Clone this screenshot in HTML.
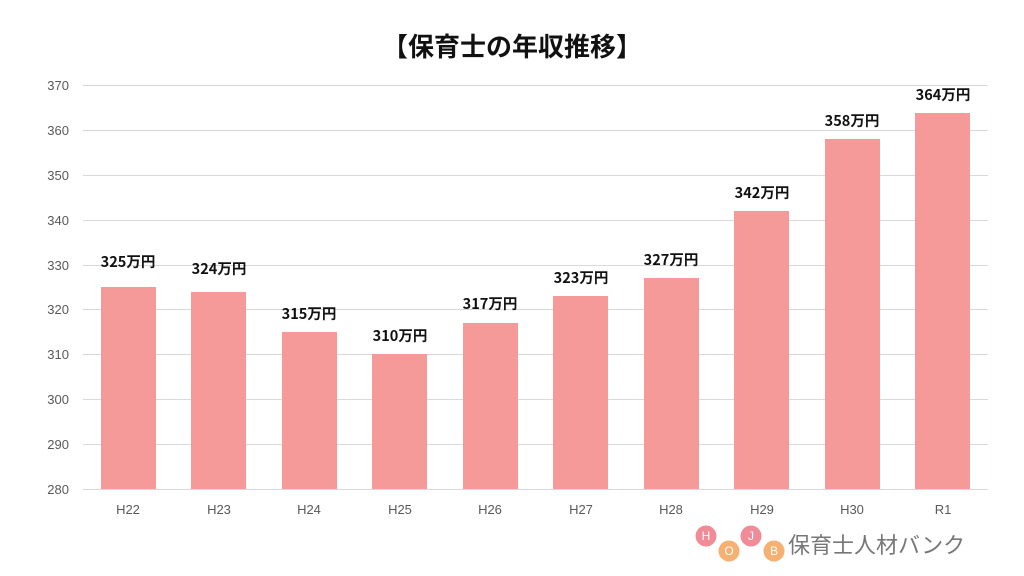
<!DOCTYPE html>
<html><head><meta charset="utf-8"><style>
html,body{margin:0;padding:0;background:#fff;}
svg{display:block;font-family:"Liberation Sans","Noto Sans CJK JP",sans-serif;}
</style></head><body>
<svg width="1024" height="576" viewBox="0 0 1024 576">
<rect width="1024" height="576" fill="#fff"/>
<text x="512" y="56" text-anchor="middle" font-size="26" font-weight="bold" fill="#111" font-family="Noto Sans CJK JP, sans-serif">【保育士の年収推移】</text>
<g stroke="#d9d9d9" stroke-width="1">
<line x1="83" x2="988" y1="85.5" y2="85.5"/>
<line x1="83" x2="988" y1="130.5" y2="130.5"/>
<line x1="83" x2="988" y1="175.5" y2="175.5"/>
<line x1="83" x2="988" y1="220.5" y2="220.5"/>
<line x1="83" x2="988" y1="265.5" y2="265.5"/>
<line x1="83" x2="988" y1="309.5" y2="309.5"/>
<line x1="83" x2="988" y1="354.5" y2="354.5"/>
<line x1="83" x2="988" y1="399.5" y2="399.5"/>
<line x1="83" x2="988" y1="444.5" y2="444.5"/>
<line x1="83" x2="988" y1="489.5" y2="489.5"/>
</g>
<g font-size="13" fill="#595959" text-anchor="end">
<text x="69" y="90">370</text><text x="69" y="135">360</text><text x="69" y="180">350</text>
<text x="69" y="225">340</text><text x="69" y="270">330</text><text x="69" y="314">320</text>
<text x="69" y="359">310</text><text x="69" y="404">300</text><text x="69" y="449">290</text>
<text x="69" y="494">280</text>
</g>
<g fill="#f59a98">
<rect x="101" y="287" width="55" height="202"/>
<rect x="191" y="292" width="55" height="197"/>
<rect x="282" y="332" width="55" height="157"/>
<rect x="372" y="354" width="55" height="135"/>
<rect x="463" y="323" width="55" height="166"/>
<rect x="553" y="296" width="55" height="193"/>
<rect x="644" y="278" width="55" height="211"/>
<rect x="734" y="211" width="55" height="278"/>
<rect x="825" y="139" width="55" height="350"/>
<rect x="915" y="113" width="55" height="376"/>
</g>
<g font-size="14.5" font-weight="bold" fill="#111" text-anchor="middle" font-family="Noto Sans CJK JP, sans-serif">
<text x="128" y="267">325万円</text>
<text x="219" y="274">324万円</text>
<text x="309" y="319">315万円</text>
<text x="400" y="341">310万円</text>
<text x="490" y="309">317万円</text>
<text x="581" y="283">323万円</text>
<text x="671" y="265">327万円</text>
<text x="762" y="198">342万円</text>
<text x="852" y="126">358万円</text>
<text x="943" y="100">364万円</text>
</g>
<g font-size="13" fill="#595959" text-anchor="middle">
<text x="128" y="514">H22</text><text x="219" y="514">H23</text><text x="309" y="514">H24</text>
<text x="400" y="514">H25</text><text x="490" y="514">H26</text><text x="581" y="514">H27</text>
<text x="671" y="514">H28</text><text x="762" y="514">H29</text><text x="852" y="514">H30</text>
<text x="943" y="514">R1</text>
</g>
<g font-size="12" fill="#fff" text-anchor="middle">
<circle cx="706" cy="536" r="10.5" fill="#f08c98"/><text x="706" y="540">H</text>
<circle cx="729" cy="551" r="10.5" fill="#f6b071"/><text x="729" y="555">O</text>
<circle cx="751" cy="536" r="10.5" fill="#f08c98"/><text x="751" y="540">J</text>
<circle cx="774" cy="551" r="10.5" fill="#f6b071"/><text x="774" y="555">B</text>
</g>
<text x="788" y="553" font-size="22" fill="#777">保育士人材バンク</text>
</svg>
</body></html>
